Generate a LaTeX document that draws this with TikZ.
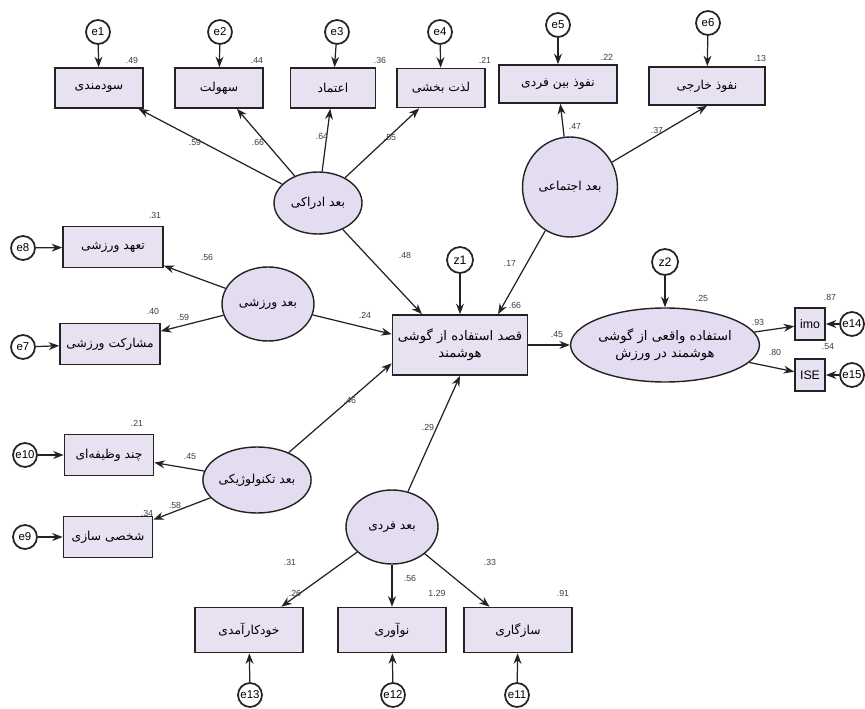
\documentclass[tikz,border=0pt]{standalone}
\usepackage{fontspec}
\setmainfont{Liberation Sans}
\newfontfamily\farsifont[Script=Arabic]{DejaVu Sans}
\TeXXeTstate=1
\newcommand{\fa}[1]{{\farsifont\beginR #1\endR}}
\usetikzlibrary{shapes.geometric,arrows.meta,positioning}
\definecolor{boxfill}{RGB}{231,225,242}
\definecolor{latfill}{RGB}{228,220,241}
\definecolor{linegray}{RGB}{35,35,35}

\begin{document}
\begin{tikzpicture}[
    x=0.02cm, y=-0.02cm,
    >={Stealth[length=6pt,width=4.5pt]},
    indicator/.style={rectangle, draw=linegray, line width=0.9pt, fill=boxfill, inner sep=1pt, align=center, font=\fontsize{7}{8.5}\selectfont},
    latent/.style={ellipse, draw=linegray, line width=0.8pt, fill=latfill, inner sep=0pt, align=center, font=\fontsize{7}{8.5}\selectfont},
    err/.style={circle, draw=linegray, line width=1pt, fill=white, minimum size=0.48cm, inner sep=0pt, font=\fontsize{6.5}{7}\selectfont},
    arrow/.style={->, line width=0.7pt, draw=linegray},
    coef/.style={font=\fontsize{5}{6}\selectfont, text=black!75, inner sep=0.5pt}
]
\useasboundingbox[fill=white] (0,0) rectangle (865,709);

% Observed variables - top row
\node[indicator, minimum width=1.76cm, minimum height=0.8cm] (usef) at (99,88) {\fa{سودمندی}};
\node[indicator, minimum width=1.76cm, minimum height=0.8cm] (ease) at (219,88) {\fa{سهولت}};
\node[indicator, minimum width=1.7cm, minimum height=0.8cm] (trust) at (333,88) {\fa{اعتماد}};
\node[indicator, minimum width=1.76cm, minimum height=0.78cm] (enjoy) at (441,88) {\fa{لذت بخشی}};
\node[indicator, minimum width=2.36cm, minimum height=0.76cm] (interinf) at (558,84) {\fa{نفوذ بین فردی}};
\node[indicator, minimum width=2.32cm, minimum height=0.76cm] (extinf) at (707,86) {\fa{نفوذ خارجی}};

% Observed variables - left column
\node[indicator, minimum width=2cm, minimum height=0.82cm] (commit) at (113,247) {\fa{تعهد ورزشی}};
\node[indicator, minimum width=2cm, minimum height=0.82cm] (partic) at (110,344) {\fa{مشارکت ورزشی}};
\node[indicator, minimum width=1.78cm, minimum height=0.82cm] (multi) at (109,455) {\fa{چند وظیفه‌ای}};
\node[indicator, minimum width=1.78cm, minimum height=0.82cm] (person) at (108,537) {\fa{شخصی سازی}};

% Observed variables - bottom row
\node[indicator, minimum width=2.16cm, minimum height=0.9cm] (selfeff) at (249,630) {\fa{خودکارآمدی}};
\node[indicator, minimum width=2.16cm, minimum height=0.9cm] (innov) at (392,630) {\fa{نوآوری}};
\node[indicator, minimum width=2.16cm, minimum height=0.9cm] (compat) at (518,630) {\fa{سازگاری}};

% Intention and usage
\node[indicator, minimum width=2.7cm, minimum height=1.2cm, font=\fontsize{7.5}{9.5}\selectfont] (intent) at (460,345) {\fa{قصد استفاده از گوشی}\\\fa{هوشمند}};
\node[indicator, minimum width=0.6cm, minimum height=0.64cm, inner sep=0pt, font=\fontsize{7}{8}\selectfont] (imo) at (810,324) {imo};
\node[indicator, minimum width=0.6cm, minimum height=0.64cm, inner sep=0pt, font=\fontsize{7}{8}\selectfont] (ise) at (810,375) {ISE};

% Latent dimensions
\node[latent, minimum width=1.76cm, minimum height=1.24cm] (percept) at (318,203) {\fa{بعد ادراکی}};
\node[latent, minimum width=1.9cm, minimum height=2cm] (social) at (570,187) {\fa{بعد اجتماعی}};
\node[latent, minimum width=1.84cm, minimum height=1.48cm] (sport) at (268,304) {\fa{بعد ورزشی}};
\node[latent, minimum width=1.92cm, minimum height=1.32cm] (techno) at (257,480) {\fa{بعد تکنولوژیکی}};
\node[latent, minimum width=1.84cm, minimum height=1.48cm] (indiv) at (392,527) {\fa{بعد فردی}};
\node[latent, minimum width=2.88cm, minimum height=1.48cm, font=\fontsize{7.5}{9.5}\selectfont] (actual) at (665,345) {\fa{استفاده واقعی از گوشی}\\\fa{هوشمند در ورزش}};

% Error terms
\foreach \n/\x/\y in {e1/98/32, e2/220/32, e3/337/32, e4/440/32, e5/558/25, e6/708/23,
    e8/23/248, e7/23/347, e10/25/455, e9/25/537,
    e13/250/695, e12/393/695, e11/517/695, e14/852/324, e15/852/375}
    \node[err] (\n) at (\x,\y) {\n};
\node[err, minimum size=0.52cm, font=\fontsize{7}{8}\selectfont] (z1) at (460,260) {z1};
\node[err, minimum size=0.52cm, font=\fontsize{7}{8}\selectfont] (z2) at (665,262) {z2};

% Error arrows
\foreach \a/\b in {e1/usef, e2/ease, e3/trust, e4/enjoy, e5/interinf, e6/extinf,
    e8/commit, e7/partic, e10/multi, e9/person,
    e13/selfeff, e12/innov, e11/compat, e14/imo, e15/ise, z1/intent, z2/actual}
    \draw[arrow] (\a) -- (\b);

% Loadings
\foreach \a/\b in {percept/usef, percept/ease, percept/trust, percept/enjoy,
    social/interinf, sport/commit, sport/partic, techno/multi, techno/person,
    indiv/selfeff, indiv/innov, indiv/compat, actual/imo, actual/ise}
    \draw[arrow] (\a) -- (\b);
\draw[arrow] (social) -- (extinf.south);

% Structural paths
\draw[arrow] (percept) -- (intent.141);
\draw[arrow] (social) -- (intent.39);
\draw[arrow] (sport) -- (intent.171);
\draw[arrow] (techno) -- (intent.195);
\draw[arrow] (indiv) -- (intent.south);
\draw[arrow] (intent) -- (actual);

% Estimates
\foreach \x/\y/\t [count=\i] in {132/60/.49, 257/60/.44, 380/60/.36, 485/60/.21, 607/57/.22, 760/58/.13,
    195/142/.59, 258/142/.66, 322/136/.64, 390/138/.55, 575/126/.47, 657/130/.37,
    155/215/.31, 207/257/.56, 405/255/.48, 365/315/.24, 153/311/.40, 183/317/.59,
    510/263/.17, 515/305/.66, 557/335/.45, 702/298/.25, 758/322/.93, 830/297/.87, 775/352/.80, 828/347/.54,
    350/400/.46, 137/423/.21, 190/457/.45, 147/513/.34, 175/505/.58,
    428/427/.29, 290/562/.31, 410/578/.56, 490/562/.33, 295/593/.26, 437/593/1.29, 563/593/.91}
    \node[coef] (k\i) at (\x,\y) {\t};

\end{tikzpicture}
\end{document}
